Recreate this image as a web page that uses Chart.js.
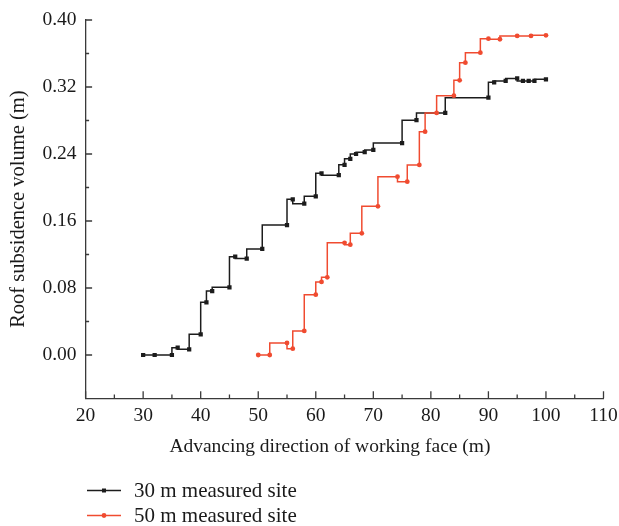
<!DOCTYPE html>
<html><head><meta charset="utf-8">
<script src="https://cdn.jsdelivr.net/npm/chart.js@4.4.1/dist/chart.umd.min.js"></script>
<style>html,body{margin:0;padding:0;background:#fff}#wrap{position:relative;width:619px;height:526px}</style>
</head><body><div id="wrap"><canvas id="c" width="619" height="526"></canvas></div>
<script>
const site30X = [30, 32, 35, 36, 38, 40, 41, 42, 45, 46, 48, 50.7, 55, 56, 58, 60, 61, 64, 65, 66, 67, 68.5, 70, 75, 77.5, 82.5, 90, 91, 93, 95, 96, 97, 98, 100];
const site30Y = [0, 0, 0, 0.0087, 0.0068, 0.0247, 0.0629, 0.0764, 0.0808, 0.1174, 0.1152, 0.1266, 0.1552, 0.1859, 0.1807, 0.1895, 0.2170, 0.2147, 0.2271, 0.2343, 0.2400, 0.2421, 0.2448, 0.2531, 0.2804, 0.2890, 0.3072, 0.3256, 0.3272, 0.3302, 0.3272, 0.3272, 0.3272, 0.3292];
const site50X = [50, 52, 55, 56, 58, 60, 61, 62, 65, 66, 68, 70.8, 74.2, 75.9, 78, 79, 81, 84, 85, 86, 88.6, 90, 92, 95, 97.4, 100];
const site50Y = [0, 0, 0.0143, 0.0075, 0.0287, 0.0720, 0.0872, 0.0928, 0.1340, 0.1317, 0.1453, 0.1775, 0.2129, 0.2069, 0.2269, 0.2666, 0.2890, 0.3097, 0.3280, 0.3490, 0.3610, 0.3777, 0.3770, 0.3810, 0.3810, 0.3817];
const xTicks = [20, 30, 40, 50, 60, 70, 80, 90, 100, 110];
const xMinorTicks = [25, 35, 45, 55, 65, 75, 85, 95, 105];
const yTicks = [0, 0.08, 0.16, 0.24, 0.32, 0.40];
const yMinorTicks = [0.04, 0.12, 0.20, 0.28, 0.36];
const seriesLabels = ['30 m measured site', '50 m measured site'];
const xTitle = 'Advancing direction of working face (m)';
const yTitle = 'Roof subsidence volume (m)';

const FONT = '"Liberation Serif", "DejaVu Serif", serif';
const AXIS = '#3a3a3a';
const BLACK = '#1c1c1c';
const RED = '#f04b30';

const toPts = (xs, ys) => xs.map((x, i) => ({x: x, y: ys[i]}));

const ds30 = {label: seriesLabels[0], data: toPts(site30X, site30Y), borderColor: BLACK, backgroundColor: BLACK,
  pointStyle: 'rect', pointRadius: 3, borderWidth: 1.5, pointBorderWidth: 0, stepped: 'after'};
const ds50 = {label: seriesLabels[1], data: toPts(site50X, site50Y), borderColor: RED, backgroundColor: RED,
  pointStyle: 'circle', pointRadius: 2.4, borderWidth: 1.5, pointBorderWidth: 0, stepped: 'after'};

const tickPlugin = {
  id: 'inTicks',
  afterDatasetsDraw(chart) {
    const ctx = chart.ctx, xs = chart.scales.x, ys = chart.scales.y;
    const x0 = xs.left, yb = ys.bottom;
    ctx.save();
    ctx.strokeStyle = AXIS; ctx.lineWidth = 1.3;
    ctx.beginPath();
    yTicks.forEach(v => { const p = ys.getPixelForValue(v); ctx.moveTo(x0, p); ctx.lineTo(x0 + 6.5, p); });
    yMinorTicks.forEach(v => { const p = ys.getPixelForValue(v); ctx.moveTo(x0, p); ctx.lineTo(x0 + 3.5, p); });
    xTicks.forEach(v => { const p = xs.getPixelForValue(v); ctx.moveTo(p, yb); ctx.lineTo(p, yb - 7); });
    xMinorTicks.forEach(v => { const p = xs.getPixelForValue(v); ctx.moveTo(p, yb); ctx.lineTo(p, yb - 3.7); });
    ctx.stroke();
    ctx.restore();
  }
};

const legendPlugin = {
  id: 'lineLegend',
  afterDraw(chart) {
    const ctx = chart.ctx;
    [ds30, ds50].forEach((d, i) => {
      const y = 490.5 + i * 25;
      ctx.save();
      ctx.strokeStyle = d.borderColor; ctx.lineWidth = 1.5;
      ctx.beginPath(); ctx.moveTo(87, y); ctx.lineTo(121, y); ctx.stroke();
      ctx.fillStyle = d.backgroundColor;
      ctx.beginPath();
      if (d.pointStyle === 'rect') ctx.rect(102, y - 2, 4, 4); else ctx.arc(104, y, 2.4, 0, Math.PI * 2);
      ctx.fill();
      ctx.fillStyle = '#1a1a1a';
      ctx.font = '21px ' + FONT;
      ctx.textBaseline = 'middle';
      ctx.fillText(d.label, 134, y + 1);
      ctx.restore();
    });
  }
};

new Chart(document.getElementById('c'), {
  type: 'line',
  data: {datasets: [ds50, ds30]},
  options: {
    responsive: false, animation: false, devicePixelRatio: 1,
    layout: {padding: {left: 0, top: 20, right: 15.5, bottom: 67.7}},
    plugins: {legend: {display: false}, tooltip: {enabled: false}},
    scales: {
      x: {
        type: 'linear', min: 20, max: 110,
        afterBuildTicks: s => { s.ticks = xTicks.map(v => ({value: v})); },
        afterFit: s => { s.height = 60; s.paddingLeft = 0; s.paddingRight = 0; },
        grid: {display: true, drawOnChartArea: false, drawTicks: false},
        border: {display: true, color: AXIS, width: 1.3},
        ticks: {color: '#1a1a1a', font: {family: FONT, size: 19.5}, padding: 6, maxRotation: 0, autoSkip: false,
          callback: v => String(v)},
        title: {display: true, text: xTitle + '      ', color: '#1a1a1a', font: {family: FONT, size: 19.5}, padding: {top: 0, bottom: 0}}
      },
      y: {
        type: 'linear', min: -0.0517, max: 0.40,
        afterBuildTicks: s => { s.ticks = yTicks.map(v => ({value: v})); },
        afterFit: s => { s.width = 85.6; s.paddingTop = 0; s.paddingBottom = 0; },
        grid: {display: true, drawOnChartArea: false, drawTicks: false},
        border: {display: true, color: AXIS, width: 1.3},
        ticks: {color: '#1a1a1a', font: {family: FONT, size: 19.5}, padding: 9, autoSkip: false,
          callback: v => Number(v).toFixed(2)},
        title: {display: true, text: yTitle, color: '#1a1a1a', font: {family: FONT, size: 20.5}, padding: {top: 6.5, bottom: 0}}
      }
    }
  },
  plugins: [tickPlugin, legendPlugin]
});
</script>
</body></html>
